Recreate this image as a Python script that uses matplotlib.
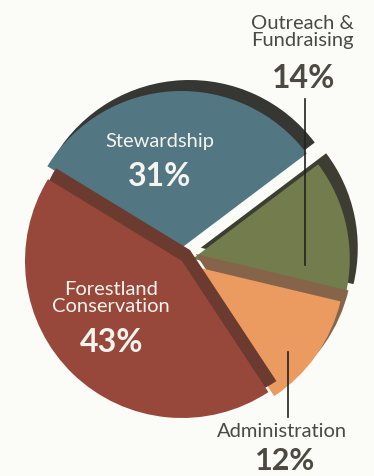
import matplotlib
matplotlib.use("Agg")
import matplotlib.pyplot as plt

# ---- data ----
categories = ["Stewardship", "Forestland\nConservation", "Administration", "Outreach &\nFundraising"]
shares = [31, 43, 12, 14]
pct_labels = ["31%", "43%", "12%", "14%"]

face_colors = ["#527782", "#98483a", "#eb9a60", "#737c4c"]
side_colors = ["#363733", "#6b3b30", "#866449", "#3d3d32"]
explode_px = [13, 0, 7, 11]

W, H = 374, 477
fig = plt.figure(figsize=(W / 100, H / 100), dpi=100, facecolor="#fbfbf8")
ax = fig.add_axes([0, 0, 1, 1])
ax.set_facecolor("#fbfbf8")

R = 157
O = (182, H - 262)
shift = (8, 11)
start = 37

# draw order: stewardship, outreach, administration, forestland
order = [0, 3, 2, 1]
for z, i in enumerate(order):
    sw, _ = ax.pie(shares, radius=R, center=(O[0] + shift[0], O[1] + shift[1]),
                   startangle=start, counterclock=True, explode=explode_px,
                   colors=side_colors, frame=True,
                   wedgeprops=dict(linewidth=0))
    fw, _ = ax.pie(shares, radius=R, center=O,
                   startangle=start, counterclock=True, explode=explode_px,
                   colors=face_colors, frame=True,
                   wedgeprops=dict(linewidth=0))
    for k, w in enumerate(sw):
        if k == i:
            w.set_zorder(2 + 2 * z)
        else:
            w.remove()
    for k, w in enumerate(fw):
        if k == i:
            w.set_zorder(3 + 2 * z)
        else:
            w.remove()

ax.set_xlim(0, W)
ax.set_ylim(0, H)
ax.set_aspect("equal")
ax.axis("off")

font = ["Lato", "DejaVu Sans"]
white = "#f6f4ee"
dark = "#4a4a42"
lab_fs = 14.5
pct_fs = 23

# inner labels
ax.text(160, H - 142, categories[0], color=white, fontsize=lab_fs, ha="center", va="center", family=font, zorder=20)
ax.text(160, H - 176, pct_labels[0], color=white, fontsize=pct_fs, fontweight="bold", ha="center", va="center", family=font, zorder=20)
ax.text(111, H - 298, categories[1], color=white, fontsize=lab_fs, ha="center", va="center", family=font, zorder=20, linespacing=1.05)
ax.text(112, H - 342, pct_labels[1], color=white, fontsize=pct_fs, fontweight="bold", ha="center", va="center", family=font, zorder=20)

# outer labels
ax.text(302, H - 32, categories[3], color=dark, fontsize=lab_fs, ha="center", va="center", family=font, zorder=20, linespacing=1.05)
ax.text(304, H - 79, pct_labels[3], color=dark, fontsize=pct_fs, fontweight="bold", ha="center", va="center", family=font, zorder=20)
ax.text(282, H - 432, categories[2], color=dark, fontsize=lab_fs, ha="center", va="center", family=font, zorder=20)
ax.text(285, H - 461, pct_labels[2], color=dark, fontsize=22, fontweight="bold", ha="center", va="center", family=font, zorder=20)

# leader lines
ax.plot([305, 305], [H - 100, H - 266], color="#222222", lw=1.2, zorder=21)
ax.plot([288, 288], [H - 353, H - 418], color="#222222", lw=1.2, zorder=21)

fig.savefig("out.png", dpi=100, facecolor=fig.get_facecolor())
